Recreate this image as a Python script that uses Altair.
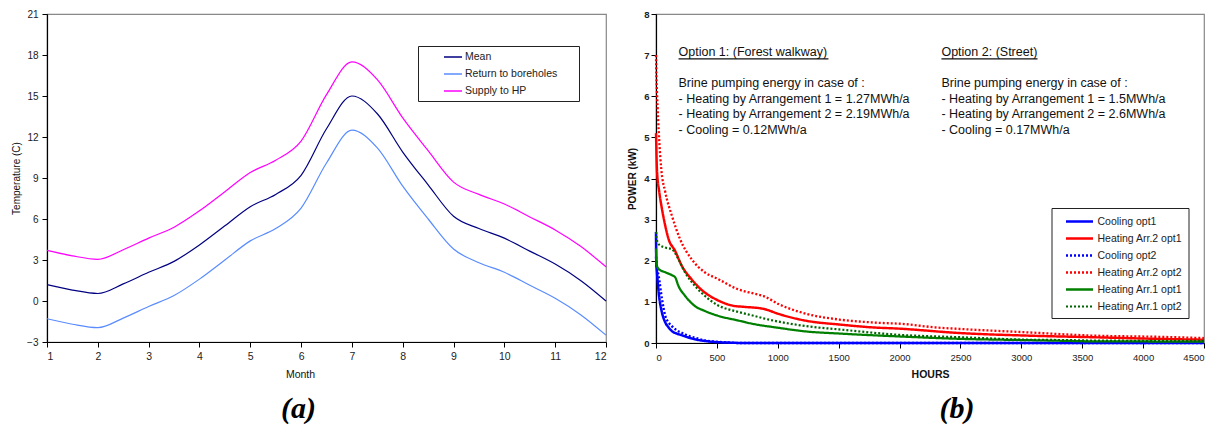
import altair as alt
import pandas as pd

FONT = "Liberation Sans"
SERIF = "Liberation Serif"

# ---------------- (a) borehole temperatures ----------------
months = [1, 1.5, 2, 2.5, 3, 3.5, 4, 4.5, 5, 5.5, 6, 6.5, 7, 7.5, 8, 8.5, 9, 9.5, 10, 10.5, 11, 11.5, 12]
mean_t = [1.2, 0.8, 0.55, 1.25, 2.1, 2.9, 4.1, 5.5, 6.9, 7.8, 9.2, 12.6, 15.0, 13.7, 10.9, 8.5, 6.2, 5.3, 4.6, 3.65, 2.7, 1.5, 0.0]
return_t = [-1.3, -1.7, -1.95, -1.25, -0.4, 0.4, 1.6, 3.0, 4.4, 5.3, 6.8, 10.1, 12.5, 11.2, 8.4, 6.0, 3.8, 2.8, 2.1, 1.15, 0.2, -1.0, -2.5]
supply_t = [3.7, 3.3, 3.05, 3.75, 4.6, 5.4, 6.6, 8.0, 9.4, 10.3, 11.7, 15.1, 17.5, 16.2, 13.4, 11.0, 8.7, 7.8, 7.1, 6.15, 5.2, 4.0, 2.5]

left_series = ["Mean", "Return to boreholes", "Supply to HP"]
left_colors = ["#000080", "#5A8CFF", "#FF00FF"]
month_ticks = list(range(1, 13))
temp_ticks = [-3, 0, 3, 6, 9, 12, 15, 18, 21]

rows = []
for name, vals in zip(left_series, [mean_t, return_t, supply_t]):
    for m, v in zip(months, vals):
        rows.append({"month": m, "temp": v, "series": name})
df_left = pd.DataFrame(rows)

left = alt.Chart(df_left).mark_line(strokeWidth=1.2, interpolate="monotone").encode(
    x=alt.X("month:Q",
            scale=alt.Scale(domain=[1, 12], nice=False, zero=False),
            axis=alt.Axis(values=month_ticks, title="Month", labelFontSize=10.5,
                          titleFontSize=10.5, titleFontWeight="normal", titlePadding=8,
                          titleX=253, grid=False, tickSize=5, labelPadding=4)),
    y=alt.Y("temp:Q",
            scale=alt.Scale(domain=[-3, 21], nice=False, zero=False),
            axis=alt.Axis(values=temp_ticks, title="Temperature (C)", labelFontSize=10,
                          titleFontSize=10, titleFontWeight="normal", titlePadding=5,
                          grid=False, tickSize=5, labelPadding=4)),
    color=alt.Color("series:N",
                    scale=alt.Scale(domain=left_series, range=left_colors),
                    legend=alt.Legend(title=" ", titleOrient="right", titlePadding=18,
                                      orient="none", legendX=371, legendY=32,
                                      symbolType="M-1.5,0H1.5", symbolSize=144, symbolStrokeWidth=1.5,
                                      symbolOffset=24, labelOffset=5, labelFontSize=10.5,
                                      labelFont=FONT, labelColor="#222", padding=4, rowPadding=4,
                                      strokeColor="#222", fillColor="white")),
).properties(
    width=559, height=328,
    title=alt.TitleParams("(a)", orient="bottom", font=SERIF, fontSize=30,
                          fontStyle="italic", fontWeight="bold", color="black",
                          dx=-28, offset=14),
)

# ---------------- (b) brine pumping power ----------------
right_series = ["Cooling opt1", "Heating Arr.2 opt1", "Cooling opt2",
                "Heating Arr.2 opt2", "Heating Arr.1 opt1", "Heating Arr.1 opt2"]
right_colors = ["#0000FF", "#FF0000", "#0000FF", "#FF0000", "#008000", "#006400"]
right_dash = [[1, 0], [1, 0], [2, 2], [2, 2], [1, 0], [2, 2]]
right_width = [2.5, 2.2, 1.2, 1.2, 2.2, 1.2]

cool1_h = [0, 2, 8, 22, 49, 76, 103, 130, 170, 211, 260, 319, 400, 500, 600, 700, 1000, 2000, 3000, 4500]
cool1_p = [2.7, 2.0, 1.72, 1.23, 0.74, 0.50, 0.38, 0.29, 0.23, 0.19, 0.14, 0.09, 0.05, 0.02, 0.01, 0.0, 0.0, 0.0, 0.0, 0.0]

heat2o1_h = [0, 3, 8, 27, 49, 76, 103, 157, 211, 292, 400, 500, 643, 720, 883, 1004, 1234, 1504, 1774, 1990, 2506, 3044, 3586, 4127, 4500]
heat2o1_p = [5.1, 4.7, 4.2, 3.67, 3.26, 2.85, 2.53, 2.24, 1.88, 1.55, 1.23, 1.05, 0.9, 0.88, 0.83, 0.71, 0.54, 0.45, 0.38, 0.35, 0.24, 0.18, 0.14, 0.10, 0.08]

cool2_h = [0, 5, 22, 49, 76, 103, 130, 170, 211, 260, 319, 400, 500, 600, 700, 1000, 4500]
cool2_p = [2.1, 1.9, 1.63, 1.07, 0.66, 0.5, 0.41, 0.31, 0.25, 0.18, 0.13, 0.06, 0.03, 0.01, 0.0, 0.0, 0.0]

heat2o2_h = [0, 3, 8, 27, 43, 76, 130, 197, 292, 400, 500, 670, 805, 883, 1018, 1234, 1504, 1774, 2044, 2290, 2506, 3044, 3586, 4127, 4500]
heat2o2_p = [7.0, 6.5, 6.1, 4.9, 4.24, 3.67, 3.1, 2.53, 2.04, 1.72, 1.57, 1.31, 1.2, 1.14, 0.93, 0.71, 0.57, 0.5, 0.46, 0.38, 0.34, 0.26, 0.18, 0.15, 0.12]

heat1o1_h = [0, 3, 8, 22, 76, 130, 157, 184, 238, 319, 400, 500, 670, 805, 1004, 1234, 1504, 1990, 2506, 3044, 3400, 3586, 4500]
heat1o1_p = [2.3, 2.0, 1.88, 1.8, 1.72, 1.65, 1.6, 1.39, 1.15, 0.9, 0.78, 0.67, 0.55, 0.46, 0.37, 0.28, 0.23, 0.16, 0.1, 0.07, 0.05, 0.04, 0.035]

heat1o2_h = [0, 5, 22, 76, 130, 184, 238, 319, 400, 500, 670, 805, 883, 1234, 1504, 1990, 2506, 3044, 3400, 3586, 4500]
heat1o2_p = [2.7, 2.55, 2.4, 2.32, 2.28, 2.04, 1.72, 1.39, 1.15, 0.93, 0.76, 0.66, 0.6, 0.41, 0.33, 0.2, 0.14, 0.08, 0.07, 0.06, 0.05]

hour_ticks = list(range(0, 4501, 500))
kw_ticks = list(range(0, 9))

rows = []
for name, hs, ps in zip(right_series,
                        [cool1_h, heat2o1_h, cool2_h, heat2o2_h, heat1o1_h, heat1o2_h],
                        [cool1_p, heat2o1_p, cool2_p, heat2o2_p, heat1o1_p, heat1o2_p]):
    for h, p in zip(hs, ps):
        rows.append({"hours": h, "kw": p, "series": name})
df_right = pd.DataFrame(rows)

note_x = [185, 185, 185, 185, 185, 2344, 2344, 2344, 2344, 2344]
note_y = [6.97, 6.23, 5.84, 5.46, 5.09, 6.97, 6.23, 5.84, 5.46, 5.09]
note_text = ["Option 1: (Forest walkway)",
             "Brine pumping energy in case of :",
             "- Heating by Arrangement 1 = 1.27MWh/a",
             "- Heating by Arrangement 2 = 2.19MWh/a",
             "- Cooling = 0.12MWh/a",
             "Option 2: (Street)",
             "Brine pumping energy in case of :",
             "- Heating by Arrangement 1 = 1.5MWh/a",
             "- Heating by Arrangement 2 = 2.6MWh/a",
             "- Cooling = 0.17MWh/a"]
df_notes = pd.DataFrame({"hours": note_x, "kw": note_y, "text": note_text})

ul_x = [185, 2344]
ul_x2 = [1416, 3133]
ul_y = [6.91, 6.91]
df_ul = pd.DataFrame({"hours": ul_x, "hours2": ul_x2, "kw": ul_y})

right_legend = alt.Legend(title=None, orient="none", legendX=395.5, legendY=194,
                          symbolType="M-2.25,0H2.25", symbolSize=144, symbolOffset=14.5,
                          labelOffset=10.5, labelFontSize=10.5, labelFont=FONT, labelColor="#222",
                          padding=6, rowPadding=4, strokeColor="#222", fillColor="white")

x_r = alt.X("hours:Q", scale=alt.Scale(domain=[0, 4500], nice=False, zero=False),
            axis=alt.Axis(values=hour_ticks, title="HOURS", labelFontSize=9.5, format="d",
                          titleFontSize=10.5, titleFontWeight="bold", titlePadding=8,
                          grid=False, tickSize=5, labelPadding=4))
y_r = alt.Y("kw:Q", scale=alt.Scale(domain=[0, 8], nice=False, zero=False),
            axis=alt.Axis(values=kw_ticks, title="POWER (kW)", labelFontSize=9.5,
                          labelFontWeight="bold", titleFontSize=10, titleFontWeight="bold",
                          titlePadding=6, grid=False, tickSize=5, labelPadding=2))

lines_r = alt.Chart(df_right).mark_line(interpolate="monotone").encode(
    x=x_r, y=y_r,
    color=alt.Color("series:N", scale=alt.Scale(domain=right_series, range=right_colors),
                    legend=right_legend),
    strokeDash=alt.StrokeDash("series:N", scale=alt.Scale(domain=right_series, range=right_dash),
                              legend=right_legend),
    strokeWidth=alt.StrokeWidth("series:N", scale=alt.Scale(domain=right_series, range=right_width),
                                legend=right_legend),
)

notes = alt.Chart(df_notes).mark_text(align="left", baseline="alphabetic", font=FONT,
                                      fontSize=12.5, color="#111").encode(
    x=alt.X("hours:Q", title="HOURS"), y=alt.Y("kw:Q", title="POWER (kW)"), text="text:N")

underline = alt.Chart(df_ul).mark_rule(color="#111", strokeWidth=1.2).encode(
    x=alt.X("hours:Q", title="HOURS"), x2="hours2:Q", y=alt.Y("kw:Q", title="POWER (kW)"))

right = alt.layer(lines_r, notes, underline).properties(
    width=548, height=329,
    title=alt.TitleParams("(b)", orient="bottom", font=SERIF, fontSize=30,
                          fontStyle="italic", fontWeight="bold", color="black",
                          dx=27, offset=14),
)

chart = alt.hconcat(left, right, spacing=18).resolve_scale(
    color="independent", strokeDash="independent", strokeWidth="independent",
    x="independent", y="independent"
).resolve_legend(
    color="independent", strokeDash="independent", strokeWidth="independent"
).properties(
    padding={"left": 2, "top": 0, "right": 0, "bottom": 0}
).configure_view(
    stroke="#888", strokeWidth=1.2
).configure_axis(
    labelFont=FONT, titleFont=FONT, labelColor="#222", titleColor="#111",
    domainColor="black", tickColor="black", domainWidth=1.2
)

chart.save("out.html", embed_options={"renderer": "svg", "actions": False})
